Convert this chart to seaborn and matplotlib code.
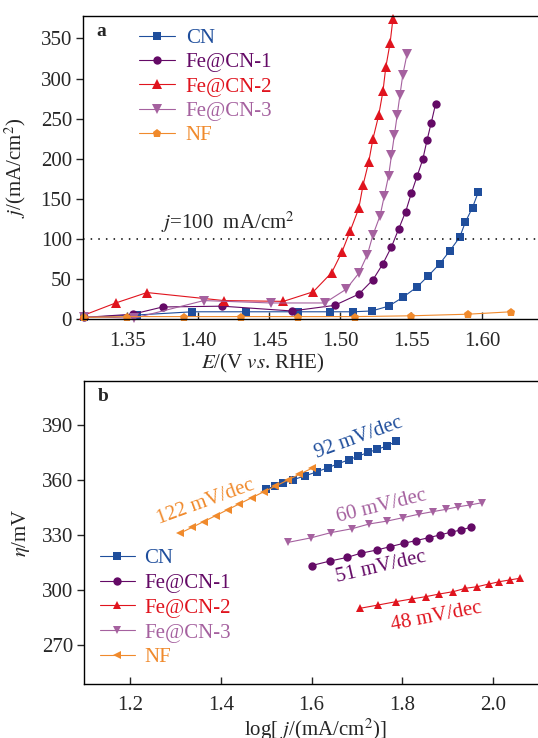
import matplotlib
matplotlib.use("Agg")
import matplotlib.pyplot as plt
import seaborn as sns

# panel a: LSV curves, E (V vs RHE) and j (mA/cm2)
cn_E = [1.320, 1.357, 1.396, 1.434, 1.470, 1.493, 1.509, 1.522, 1.534, 1.544, 1.554,
        1.562, 1.570, 1.577, 1.584, 1.588, 1.593, 1.597]
cn_j = [2, 5, 9, 9, 9, 9, 9, 10, 16, 27, 40, 54, 69, 85, 102, 121, 139, 158]

fe1_E = [1.320, 1.354, 1.375, 1.417, 1.466, 1.496, 1.513, 1.523, 1.530, 1.536, 1.541,
         1.546, 1.550, 1.554, 1.558, 1.561, 1.564, 1.567]
fe1_j = [2, 6, 15, 16, 10, 17, 31, 49, 69, 90, 112, 134, 157, 178, 199, 223, 245, 268]

fe2_E = [1.320, 1.342, 1.364, 1.418, 1.460, 1.481, 1.494, 1.501, 1.507, 1.513, 1.516,
         1.520, 1.523, 1.527, 1.530, 1.532, 1.535, 1.537]
fe2_j = [5, 20, 33, 23, 22, 34, 58, 83, 110, 138, 167, 196, 225, 254, 284, 314, 344, 374]

fe3_E = [1.320, 1.355, 1.404, 1.451, 1.489, 1.504, 1.513, 1.519, 1.523, 1.528, 1.531,
         1.534, 1.536, 1.538, 1.540, 1.542, 1.544, 1.547]
fe3_j = [3, 1, 23, 20, 20, 37, 57, 80, 105, 129, 154, 179, 204, 229, 254, 280, 305, 331]

nf_E = [1.320, 1.350, 1.390, 1.430, 1.470, 1.510, 1.550, 1.590, 1.620]
nf_j = [2, 3, 3, 3, 3, 3, 4, 6, 9]

# panel b: Tafel plots, log j and overpotential (mV)
cn_logj = [1.500, 1.520, 1.538, 1.560, 1.585, 1.611, 1.636, 1.659, 1.683, 1.703, 1.725,
           1.745, 1.766, 1.786]
cn_eta = [355.2, 356.6, 358.2, 360.2, 362.2, 364.4, 366.7, 368.9, 371.1, 373.0, 375.1,
          376.7, 378.6, 381.0]

fe1_logj = [1.600, 1.641, 1.679, 1.708, 1.744, 1.773, 1.804, 1.830, 1.858, 1.883, 1.907,
            1.929, 1.951]
fe1_eta = [313.3, 315.8, 317.8, 320.0, 321.8, 323.6, 325.5, 326.9, 328.5, 330.0, 331.5,
           332.7, 334.2]

fe2_logj = [1.707, 1.747, 1.786, 1.821, 1.853, 1.882, 1.913, 1.939, 1.966, 1.992, 2.014,
            2.038, 2.060]
fe2_eta = [290.0, 291.8, 293.6, 295.1, 296.4, 297.8, 299.1, 300.9, 301.8, 303.3, 304.5,
           305.5, 306.4]

fe3_logj = [1.549, 1.598, 1.643, 1.689, 1.727, 1.767, 1.801, 1.836, 1.867, 1.897, 1.924,
            1.950, 1.976]
fe3_eta = [326.0, 328.4, 331.3, 333.4, 336.0, 337.6, 339.4, 341.3, 342.7, 344.0, 345.4,
           346.4, 347.6]

nf_logj = [1.310, 1.336, 1.362, 1.389, 1.415, 1.441, 1.468, 1.494, 1.520, 1.547, 1.573,
           1.600]
nf_eta = [331.0, 334.1, 337.3, 340.6, 343.8, 347.0, 350.3, 353.5, 356.6, 359.9, 363.1,
          366.3]

labels = ["CN", "Fe@CN-1", "Fe@CN-2", "Fe@CN-3", "NF"]
colors = ["#1f4e9c", "#640a66", "#e0141e", "#a5619f", "#f08a2c"]

sns.set_theme(style="ticks")
plt.rcParams["font.family"] = ["Liberation Serif", "DejaVu Serif"]
plt.rcParams["mathtext.fontset"] = "stix"
plt.rcParams["font.size"] = 15

fig = plt.figure(figsize=(5.38, 7.38), dpi=100)
ax_a = fig.add_axes([83 / 538, 1 - 319 / 738, 462 / 538, 303 / 738])
ax_b = fig.add_axes([84 / 538, 1 - 684 / 738, 461 / 538, 303 / 738])

# ---- panel a
series_a = [(cn_E, cn_j, "s", 5.4), (fe1_E, fe1_j, "o", 6.0), (fe2_E, fe2_j, "^", 6.7),
            (fe3_E, fe3_j, "v", 6.7), (nf_E, nf_j, "p", 6.4)]
for (x, y, m, ms), lab, c in zip(series_a, labels, colors):
    sns.lineplot(x=x, y=y, ax=ax_a, color=c, marker=m, markersize=ms, markeredgewidth=0,
                 linewidth=0.8, sort=False, label=lab, clip_on=False)

ax_a.axhline(100, color="black", linestyle=(0, (1, 4)), linewidth=1.1)
ax_a.text(1.374, 121, r"$j$=100  mA/cm$^2$", fontsize=15, va="center", ha="left")
ax_a.text(0.03, 0.95, "a", transform=ax_a.transAxes, fontsize=14, fontweight="bold",
          va="center")

ax_a.set_xlim(1.319, 1.644)
ax_a.set_ylim(0, 378)
ax_a.set_xticks([1.35, 1.40, 1.45, 1.50, 1.55, 1.60])
ax_a.set_xticklabels(["1.35", "1.40", "1.45", "1.50", "1.55", "1.60"])
ax_a.set_yticks(range(0, 351, 50))
ax_a.set_xlabel(r"$E$/(V $vs$. RHE)", fontsize=15)
ax_a.set_ylabel(r"$j$/(mA/cm$^2$)", fontsize=15)
ax_a.xaxis.set_label_coords(0.39, -0.11)
ax_a.yaxis.set_label_coords(-0.12, 0.5)
ax_a.legend(loc="upper left", bbox_to_anchor=(0.121, 0.958), frameon=False, fontsize=15,
            handlelength=1.75, handletextpad=0.5, labelspacing=0.22, borderpad=0,
            borderaxespad=0, labelcolor="linecolor")

# ---- panel b
series_b = [(cn_logj, cn_eta, "s"), (fe1_logj, fe1_eta, "o"), (fe2_logj, fe2_eta, "^"),
            (fe3_logj, fe3_eta, "v"), (nf_logj, nf_eta, "<")]
for (x, y, m), lab, c in zip(series_b, labels, colors):
    sns.lineplot(x=x, y=y, ax=ax_b, color=c, marker=m, markersize=6.0, markeredgewidth=0,
                 linewidth=0.8, sort=False, label=lab)

notes = [("92 mV/dec", 1.705, 383.0, 20, colors[0]),
         ("51 mV/dec", 1.753, 312.3, 13, colors[1]),
         ("48 mV/dec", 1.875, 285.3, 11, colors[2]),
         ("60 mV/dec", 1.755, 345.8, 14, colors[3]),
         ("122 mV/dec", 1.367, 348.0, 20, colors[4])]
for txt, x, y, rot, c in notes:
    ax_b.text(x, y, txt, color=c, rotation=rot, fontsize=15, ha="center", va="center",
              rotation_mode="anchor")

ax_b.text(0.03, 0.95, "b", transform=ax_b.transAxes, fontsize=14, fontweight="bold",
          va="center")
ax_b.set_xlim(1.098, 2.115)
ax_b.set_ylim(248.7, 414.0)
ax_b.set_xticks([1.2, 1.4, 1.6, 1.8, 2.0])
ax_b.set_xticklabels(["1.2", "1.4", "1.6", "1.8", "2.0"])
ax_b.set_yticks(range(270, 391, 30))
ax_b.set_xlabel(r"log[ $j$/(mA/cm$^2$)]", fontsize=15)
ax_b.set_ylabel(r"$\eta$/mV", fontsize=15)
ax_b.xaxis.set_label_coords(0.503, -0.108)
ax_b.yaxis.set_label_coords(-0.113, 0.5)
ax_b.legend(loc="upper left", bbox_to_anchor=(0.035, 0.447), frameon=False, fontsize=15,
            handlelength=1.65, handletextpad=0.45, labelspacing=0.25, borderpad=0,
            borderaxespad=0, labelcolor="linecolor", markerscale=1.0)

for ax in (ax_a, ax_b):
    ax.spines["right"].set_visible(False)
    for s in ("left", "bottom", "top"):
        ax.spines[s].set_linewidth(1.0)
        ax.spines[s].set_color("black")
    ax.tick_params(axis="x", direction="in", length=5, width=1, labelsize=15, pad=9)
    ax.tick_params(axis="y", direction="out", length=5, width=1, labelsize=15, pad=3)
    ax.grid(False)

fig.savefig("out.png", dpi=100)
